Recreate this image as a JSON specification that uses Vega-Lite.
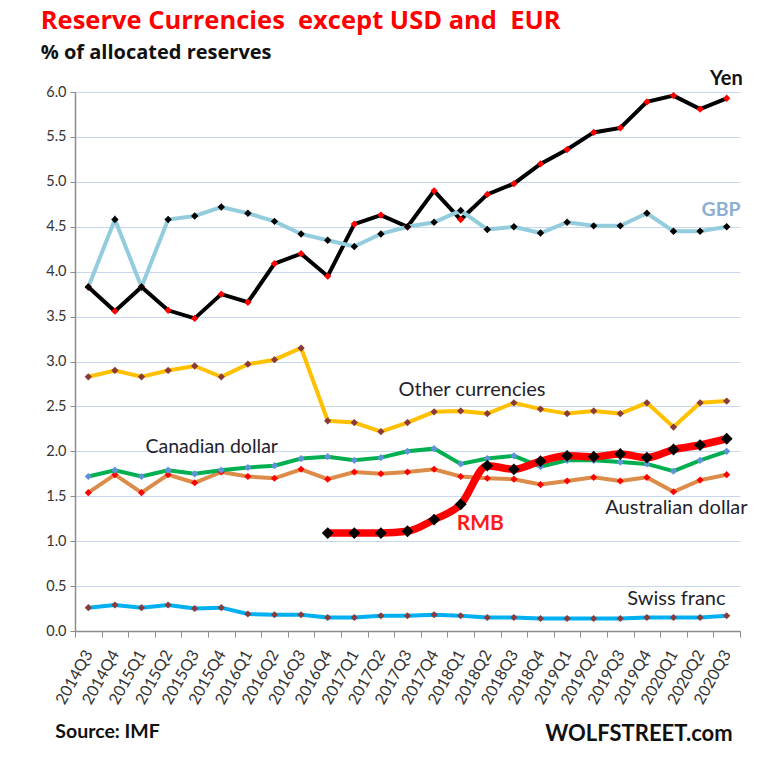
{
  "$schema": "https://vega.github.io/schema/vega-lite/v6.json",
  "autosize": "none",
  "width": 665,
  "height": 539,
  "padding": {"left": 75, "top": 92, "right": 37, "bottom": 146},
  "background": "white",
  "config": {"view": {"stroke": null}, "font": "Lato"},
  "title": {
    "text": "Reserve Currencies\u00a0 except USD and\u00a0 EUR",
    "subtitle": "% of allocated reserves",
    "anchor": "start",
    "dx": -5,
    "font": "Open Sans",
    "fontSize": 25.5,
    "fontWeight": "bold",
    "color": "#FF0000",
    "subtitleFont": "Open Sans",
    "subtitleFontSize": 20,
    "subtitleFontWeight": "bold",
    "subtitleColor": "#111111",
    "subtitlePadding": 8,
    "offset": 6
  },
  "datasets": {
    "series": [
      {"q":"2014Q3","c":"Swiss franc","v":0.26},{"q":"2014Q4","c":"Swiss franc","v":0.29},{"q":"2015Q1","c":"Swiss franc","v":0.26},{"q":"2015Q2","c":"Swiss franc","v":0.29},{"q":"2015Q3","c":"Swiss franc","v":0.25},{"q":"2015Q4","c":"Swiss franc","v":0.26},{"q":"2016Q1","c":"Swiss franc","v":0.19},{"q":"2016Q2","c":"Swiss franc","v":0.18},{"q":"2016Q3","c":"Swiss franc","v":0.18},{"q":"2016Q4","c":"Swiss franc","v":0.15},{"q":"2017Q1","c":"Swiss franc","v":0.15},{"q":"2017Q2","c":"Swiss franc","v":0.17},{"q":"2017Q3","c":"Swiss franc","v":0.17},{"q":"2017Q4","c":"Swiss franc","v":0.18},{"q":"2018Q1","c":"Swiss franc","v":0.17},{"q":"2018Q2","c":"Swiss franc","v":0.15},{"q":"2018Q3","c":"Swiss franc","v":0.15},{"q":"2018Q4","c":"Swiss franc","v":0.14},{"q":"2019Q1","c":"Swiss franc","v":0.14},{"q":"2019Q2","c":"Swiss franc","v":0.14},{"q":"2019Q3","c":"Swiss franc","v":0.14},{"q":"2019Q4","c":"Swiss franc","v":0.15},{"q":"2020Q1","c":"Swiss franc","v":0.15},{"q":"2020Q2","c":"Swiss franc","v":0.15},{"q":"2020Q3","c":"Swiss franc","v":0.17},
      {"q":"2014Q3","c":"Australian dollar","v":1.54},{"q":"2014Q4","c":"Australian dollar","v":1.74},{"q":"2015Q1","c":"Australian dollar","v":1.54},{"q":"2015Q2","c":"Australian dollar","v":1.74},{"q":"2015Q3","c":"Australian dollar","v":1.65},{"q":"2015Q4","c":"Australian dollar","v":1.77},{"q":"2016Q1","c":"Australian dollar","v":1.72},{"q":"2016Q2","c":"Australian dollar","v":1.70},{"q":"2016Q3","c":"Australian dollar","v":1.80},{"q":"2016Q4","c":"Australian dollar","v":1.69},{"q":"2017Q1","c":"Australian dollar","v":1.77},{"q":"2017Q2","c":"Australian dollar","v":1.75},{"q":"2017Q3","c":"Australian dollar","v":1.77},{"q":"2017Q4","c":"Australian dollar","v":1.80},{"q":"2018Q1","c":"Australian dollar","v":1.72},{"q":"2018Q2","c":"Australian dollar","v":1.70},{"q":"2018Q3","c":"Australian dollar","v":1.69},{"q":"2018Q4","c":"Australian dollar","v":1.63},{"q":"2019Q1","c":"Australian dollar","v":1.67},{"q":"2019Q2","c":"Australian dollar","v":1.71},{"q":"2019Q3","c":"Australian dollar","v":1.67},{"q":"2019Q4","c":"Australian dollar","v":1.71},{"q":"2020Q1","c":"Australian dollar","v":1.55},{"q":"2020Q2","c":"Australian dollar","v":1.68},{"q":"2020Q3","c":"Australian dollar","v":1.74},
      {"q":"2014Q3","c":"Canadian dollar","v":1.72},{"q":"2014Q4","c":"Canadian dollar","v":1.79},{"q":"2015Q1","c":"Canadian dollar","v":1.72},{"q":"2015Q2","c":"Canadian dollar","v":1.79},{"q":"2015Q3","c":"Canadian dollar","v":1.75},{"q":"2015Q4","c":"Canadian dollar","v":1.79},{"q":"2016Q1","c":"Canadian dollar","v":1.82},{"q":"2016Q2","c":"Canadian dollar","v":1.84},{"q":"2016Q3","c":"Canadian dollar","v":1.92},{"q":"2016Q4","c":"Canadian dollar","v":1.94},{"q":"2017Q1","c":"Canadian dollar","v":1.90},{"q":"2017Q2","c":"Canadian dollar","v":1.93},{"q":"2017Q3","c":"Canadian dollar","v":2.00},{"q":"2017Q4","c":"Canadian dollar","v":2.03},{"q":"2018Q1","c":"Canadian dollar","v":1.86},{"q":"2018Q2","c":"Canadian dollar","v":1.92},{"q":"2018Q3","c":"Canadian dollar","v":1.95},{"q":"2018Q4","c":"Canadian dollar","v":1.83},{"q":"2019Q1","c":"Canadian dollar","v":1.90},{"q":"2019Q2","c":"Canadian dollar","v":1.90},{"q":"2019Q3","c":"Canadian dollar","v":1.88},{"q":"2019Q4","c":"Canadian dollar","v":1.86},{"q":"2020Q1","c":"Canadian dollar","v":1.78},{"q":"2020Q2","c":"Canadian dollar","v":1.90},{"q":"2020Q3","c":"Canadian dollar","v":2.00},
      {"q":"2014Q3","c":"Other currencies","v":2.83},{"q":"2014Q4","c":"Other currencies","v":2.90},{"q":"2015Q1","c":"Other currencies","v":2.83},{"q":"2015Q2","c":"Other currencies","v":2.90},{"q":"2015Q3","c":"Other currencies","v":2.95},{"q":"2015Q4","c":"Other currencies","v":2.83},{"q":"2016Q1","c":"Other currencies","v":2.97},{"q":"2016Q2","c":"Other currencies","v":3.02},{"q":"2016Q3","c":"Other currencies","v":3.15},{"q":"2016Q4","c":"Other currencies","v":2.34},{"q":"2017Q1","c":"Other currencies","v":2.32},{"q":"2017Q2","c":"Other currencies","v":2.22},{"q":"2017Q3","c":"Other currencies","v":2.32},{"q":"2017Q4","c":"Other currencies","v":2.44},{"q":"2018Q1","c":"Other currencies","v":2.45},{"q":"2018Q2","c":"Other currencies","v":2.42},{"q":"2018Q3","c":"Other currencies","v":2.54},{"q":"2018Q4","c":"Other currencies","v":2.47},{"q":"2019Q1","c":"Other currencies","v":2.42},{"q":"2019Q2","c":"Other currencies","v":2.45},{"q":"2019Q3","c":"Other currencies","v":2.42},{"q":"2019Q4","c":"Other currencies","v":2.54},{"q":"2020Q1","c":"Other currencies","v":2.27},{"q":"2020Q2","c":"Other currencies","v":2.54},{"q":"2020Q3","c":"Other currencies","v":2.56},
      {"q":"2014Q3","c":"Yen","v":3.83},{"q":"2014Q4","c":"Yen","v":3.56},{"q":"2015Q1","c":"Yen","v":3.83},{"q":"2015Q2","c":"Yen","v":3.57},{"q":"2015Q3","c":"Yen","v":3.48},{"q":"2015Q4","c":"Yen","v":3.75},{"q":"2016Q1","c":"Yen","v":3.66},{"q":"2016Q2","c":"Yen","v":4.09},{"q":"2016Q3","c":"Yen","v":4.20},{"q":"2016Q4","c":"Yen","v":3.95},{"q":"2017Q1","c":"Yen","v":4.53},{"q":"2017Q2","c":"Yen","v":4.63},{"q":"2017Q3","c":"Yen","v":4.50},{"q":"2017Q4","c":"Yen","v":4.90},{"q":"2018Q1","c":"Yen","v":4.58},{"q":"2018Q2","c":"Yen","v":4.86},{"q":"2018Q3","c":"Yen","v":4.98},{"q":"2018Q4","c":"Yen","v":5.20},{"q":"2019Q1","c":"Yen","v":5.36},{"q":"2019Q2","c":"Yen","v":5.55},{"q":"2019Q3","c":"Yen","v":5.60},{"q":"2019Q4","c":"Yen","v":5.89},{"q":"2020Q1","c":"Yen","v":5.96},{"q":"2020Q2","c":"Yen","v":5.81},{"q":"2020Q3","c":"Yen","v":5.93},
      {"q":"2014Q3","c":"GBP","v":3.83},{"q":"2014Q4","c":"GBP","v":4.58},{"q":"2015Q1","c":"GBP","v":3.83},{"q":"2015Q2","c":"GBP","v":4.58},{"q":"2015Q3","c":"GBP","v":4.62},{"q":"2015Q4","c":"GBP","v":4.72},{"q":"2016Q1","c":"GBP","v":4.65},{"q":"2016Q2","c":"GBP","v":4.56},{"q":"2016Q3","c":"GBP","v":4.42},{"q":"2016Q4","c":"GBP","v":4.35},{"q":"2017Q1","c":"GBP","v":4.28},{"q":"2017Q2","c":"GBP","v":4.42},{"q":"2017Q3","c":"GBP","v":4.50},{"q":"2017Q4","c":"GBP","v":4.55},{"q":"2018Q1","c":"GBP","v":4.68},{"q":"2018Q2","c":"GBP","v":4.47},{"q":"2018Q3","c":"GBP","v":4.50},{"q":"2018Q4","c":"GBP","v":4.43},{"q":"2019Q1","c":"GBP","v":4.55},{"q":"2019Q2","c":"GBP","v":4.51},{"q":"2019Q3","c":"GBP","v":4.51},{"q":"2019Q4","c":"GBP","v":4.65},{"q":"2020Q1","c":"GBP","v":4.45},{"q":"2020Q2","c":"GBP","v":4.45},{"q":"2020Q3","c":"GBP","v":4.50}
    ],
    "rmb": [
      {"q":"2016Q4","c":"RMB","v":1.09},{"q":"2017Q1","c":"RMB","v":1.09},{"q":"2017Q2","c":"RMB","v":1.09},{"q":"2017Q3","c":"RMB","v":1.11},{"q":"2017Q4","c":"RMB","v":1.24},{"q":"2018Q1","c":"RMB","v":1.41},{"q":"2018Q2","c":"RMB","v":1.84},{"q":"2018Q3","c":"RMB","v":1.80},{"q":"2018Q4","c":"RMB","v":1.89},{"q":"2019Q1","c":"RMB","v":1.95},{"q":"2019Q2","c":"RMB","v":1.94},{"q":"2019Q3","c":"RMB","v":1.97},{"q":"2019Q4","c":"RMB","v":1.93},{"q":"2020Q1","c":"RMB","v":2.02},{"q":"2020Q2","c":"RMB","v":2.07},{"q":"2020Q3","c":"RMB","v":2.14}
    ],
    "one": [{"k": 1}]
  },
  "layer": [
    {
      "data": {"name": "series"},
      "mark": {"type": "line"},
      "encoding": {
        "x": {
          "field": "q", "type": "nominal",
          "scale": {"type": "band", "paddingInner": 0, "paddingOuter": 0},
          "axis": {
            "title": null, "grid": false, "tickBand": "extent",
            "labelAngle": -61, "labelAlign": "right", "labelBaseline": "middle",
            "labelFont": "Lato", "labelFontSize": 16, "labelColor": "#333333", "labelPadding": 14,
            "domainColor": "#8C8C8C", "tickColor": "#8C8C8C", "tickSize": 6, "domainWidth": 1.5
          }
        },
        "y": {
          "field": "v", "type": "quantitative",
          "scale": {"domain": [0, 6], "nice": false, "zero": true},
          "axis": {
            "title": null, "values": [0, 0.5, 1, 1.5, 2, 2.5, 3, 3.5, 4, 4.5, 5, 5.5, 6], "format": ".1f",
            "grid": true, "gridColor": "#C6D7EE", "gridWidth": 1.2,
            "labelFont": "Lato", "labelFontSize": 14.5, "labelColor": "#333333", "labelPadding": 4,
            "domainColor": "#8C8C8C", "tickColor": "#8C8C8C", "tickSize": 5, "domainWidth": 1.5
          }
        },
        "detail": {"field": "c"},
        "stroke": {"field": "c", "type": "nominal", "legend": null,
          "scale": {"domain": ["Swiss franc","Australian dollar","Canadian dollar","Other currencies","Yen","GBP"],
                    "range": ["#00B0F0","#DC8B49","#00B050","#FFC000","#000000","#93CDDD"]}},
        "strokeWidth": {"field": "c", "type": "nominal", "legend": null,
          "scale": {"domain": ["Swiss franc","Australian dollar","Canadian dollar","Other currencies","Yen","GBP"],
                    "range": [4, 4, 4, 4, 4.5, 5]}}
      }
    },
    {
      "data": {"name": "series"},
      "mark": {"type": "point", "shape": "diamond", "filled": true, "opacity": 1, "strokeWidth": 0},
      "encoding": {
        "x": {"field": "q", "type": "nominal"},
        "y": {"field": "v", "type": "quantitative"},
        "fill": {"field": "c", "type": "nominal", "legend": null,
          "scale": {"domain": ["Swiss franc","Australian dollar","Canadian dollar","Other currencies","Yen","GBP"],
                    "range": ["#8B3A3A","#FF0000","#5F92D8","#8B3A3A","#FF0000","#000000"]}},
        "size": {"field": "c", "type": "nominal", "legend": null,
          "scale": {"domain": ["Swiss franc","Australian dollar","Canadian dollar","Other currencies","Yen","GBP"],
                    "range": [50, 55, 55, 60, 80, 80]}}
      }
    },
    {
      "data": {"name": "rmb"},
      "mark": {"type": "line", "color": "#FF0000", "strokeWidth": 7.5, "interpolate": "monotone"},
      "encoding": {
        "x": {"field": "q", "type": "nominal"},
        "y": {"field": "v", "type": "quantitative"}
      }
    },
    {
      "data": {"name": "rmb"},
      "mark": {"type": "point", "shape": "diamond", "filled": true, "color": "#000000", "opacity": 1, "size": 140, "strokeWidth": 0},
      "encoding": {
        "x": {"field": "q", "type": "nominal"},
        "y": {"field": "v", "type": "quantitative"}
      }
    },
    {
      "data": {"name": "one"},
      "mark": {"type": "text", "text": "Yen", "font": "Lato", "fontSize": 20, "fontWeight": "bold", "color": "#111111", "align": "right", "baseline": "alphabetic", "dx": 16},
      "encoding": {"x": {"datum": "2020Q3", "type": "nominal"}, "y": {"datum": 6.08, "type": "quantitative"}}
    },
    {
      "data": {"name": "one"},
      "mark": {"type": "text", "text": "GBP", "font": "Lato", "fontSize": 19.5, "fontWeight": "bold", "color": "#8DAFD3", "align": "right", "baseline": "alphabetic", "dx": 14},
      "encoding": {"x": {"datum": "2020Q3", "type": "nominal"}, "y": {"datum": 4.62, "type": "quantitative"}}
    },
    {
      "data": {"name": "one"},
      "mark": {"type": "text", "text": "Other currencies", "font": "Lato", "fontSize": 20, "color": "#1F1F2E", "align": "left", "baseline": "alphabetic", "dx": -9},
      "encoding": {"x": {"datum": "2017Q3", "type": "nominal"}, "y": {"datum": 2.62, "type": "quantitative"}}
    },
    {
      "data": {"name": "one"},
      "mark": {"type": "text", "text": "Canadian dollar", "font": "Lato", "fontSize": 19.5, "color": "#1F1F2E", "align": "left", "baseline": "alphabetic", "dx": 4},
      "encoding": {"x": {"datum": "2015Q1", "type": "nominal"}, "y": {"datum": 1.98, "type": "quantitative"}}
    },
    {
      "data": {"name": "one"},
      "mark": {"type": "text", "text": "Australian dollar", "font": "Lato", "fontSize": 20, "color": "#1F1F2E", "align": "left", "baseline": "alphabetic", "dx": -15},
      "encoding": {"x": {"datum": "2019Q3", "type": "nominal"}, "y": {"datum": 1.30, "type": "quantitative"}}
    },
    {
      "data": {"name": "one"},
      "mark": {"type": "text", "text": "RMB", "font": "Lato", "fontSize": 21, "fontWeight": "bold", "color": "#FF1A1A", "align": "left", "baseline": "alphabetic", "dx": -4},
      "encoding": {"x": {"datum": "2018Q1", "type": "nominal"}, "y": {"datum": 1.12, "type": "quantitative"}}
    },
    {
      "data": {"name": "one"},
      "mark": {"type": "text", "text": "Swiss franc", "font": "Lato", "fontSize": 20, "color": "#1F1F2E", "align": "left", "baseline": "alphabetic", "dx": 7},
      "encoding": {"x": {"datum": "2019Q3", "type": "nominal"}, "y": {"datum": 0.29, "type": "quantitative"}}
    },
    {
      "data": {"name": "one"},
      "mark": {"type": "text", "text": "Source: IMF", "font": "Lato", "fontSize": 19.5, "fontWeight": "bold", "color": "#111111", "align": "left", "baseline": "alphabetic", "dx": -33},
      "encoding": {"x": {"datum": "2014Q3", "type": "nominal"}, "y": {"datum": -1.19, "type": "quantitative"}}
    },
    {
      "data": {"name": "one"},
      "mark": {"type": "text", "text": "WOLFSTREET.com", "font": "Lato", "fontSize": 22, "fontWeight": "bold", "color": "#111111", "align": "right", "baseline": "alphabetic", "dx": 6},
      "encoding": {"x": {"datum": "2020Q3", "type": "nominal"}, "y": {"datum": -1.22, "type": "quantitative"}}
    }
  ]
}
